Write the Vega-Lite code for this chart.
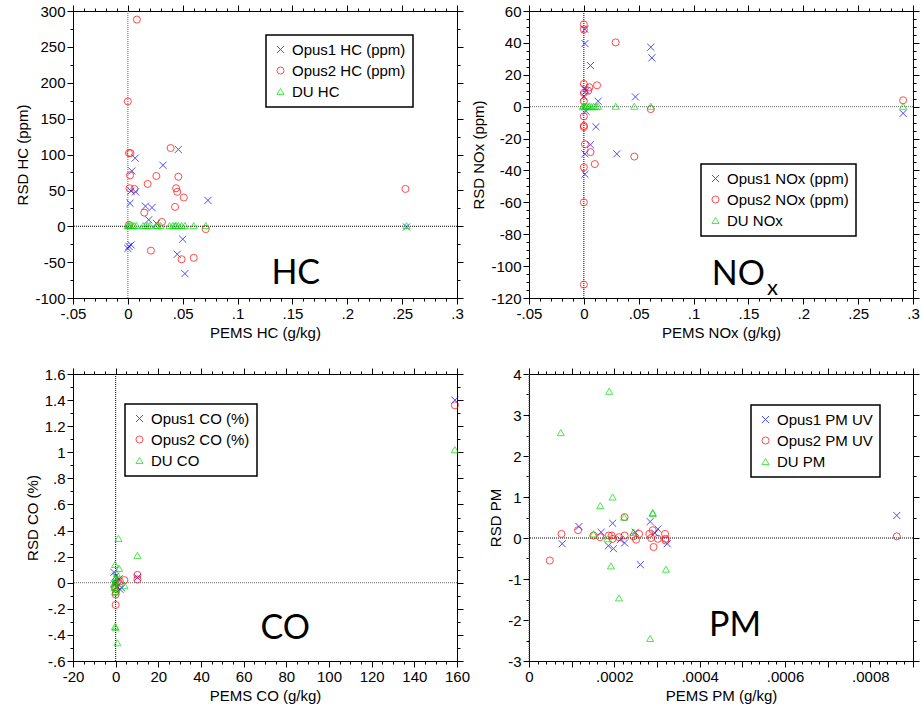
{
"$schema": "https://vega.github.io/schema/vega-lite/v6.json",
"background": "white",
"padding": {"left": 15, "top": 3, "right": 0, "bottom": 5},
"datasets": {
"hc": [
{"x":0.046,"y":107,"s":"Opus1 HC (ppm)"},{"x":0.0067,"y":95,"s":"Opus1 HC (ppm)"},{"x":0.032,"y":85,"s":"Opus1 HC (ppm)"},{"x":0.0036,"y":77,"s":"Opus1 HC (ppm)"},{"x":0.003,"y":49,"s":"Opus1 HC (ppm)"},{"x":0.007,"y":48,"s":"Opus1 HC (ppm)"},{"x":0.002,"y":32,"s":"Opus1 HC (ppm)"},{"x":0.016,"y":28,"s":"Opus1 HC (ppm)"},{"x":0.022,"y":26,"s":"Opus1 HC (ppm)"},{"x":0.073,"y":36,"s":"Opus1 HC (ppm)"},{"x":0.019,"y":9,"s":"Opus1 HC (ppm)"},{"x":0.026,"y":4,"s":"Opus1 HC (ppm)"},{"x":0.05,"y":-18,"s":"Opus1 HC (ppm)"},{"x":0.001,"y":-28,"s":"Opus1 HC (ppm)"},{"x":0.003,"y":-26,"s":"Opus1 HC (ppm)"},{"x":0.0,"y":-31,"s":"Opus1 HC (ppm)"},{"x":0.045,"y":-39,"s":"Opus1 HC (ppm)"},{"x":0.052,"y":-66,"s":"Opus1 HC (ppm)"},{"x":0.254,"y":-1,"s":"Opus1 HC (ppm)"},
{"x":0.0082,"y":288,"s":"Opus2 HC (ppm)"},{"x":0.0,"y":174,"s":"Opus2 HC (ppm)"},{"x":0.001,"y":102,"s":"Opus2 HC (ppm)"},{"x":0.0024,"y":102,"s":"Opus2 HC (ppm)"},{"x":0.039,"y":109,"s":"Opus2 HC (ppm)"},{"x":0.002,"y":71,"s":"Opus2 HC (ppm)"},{"x":0.026,"y":70,"s":"Opus2 HC (ppm)"},{"x":0.046,"y":69,"s":"Opus2 HC (ppm)"},{"x":0.018,"y":59,"s":"Opus2 HC (ppm)"},{"x":0.0015,"y":53,"s":"Opus2 HC (ppm)"},{"x":0.006,"y":52,"s":"Opus2 HC (ppm)"},{"x":0.044,"y":53,"s":"Opus2 HC (ppm)"},{"x":0.045,"y":48,"s":"Opus2 HC (ppm)"},{"x":0.051,"y":40,"s":"Opus2 HC (ppm)"},{"x":0.043,"y":27,"s":"Opus2 HC (ppm)"},{"x":0.015,"y":19,"s":"Opus2 HC (ppm)"},{"x":0.031,"y":6,"s":"Opus2 HC (ppm)"},{"x":0.071,"y":-4,"s":"Opus2 HC (ppm)"},{"x":0.021,"y":-34,"s":"Opus2 HC (ppm)"},{"x":0.049,"y":-46,"s":"Opus2 HC (ppm)"},{"x":0.06,"y":-44,"s":"Opus2 HC (ppm)"},{"x":0.253,"y":52,"s":"Opus2 HC (ppm)"},{"x":0.001,"y":2,"s":"Opus2 HC (ppm)"},
{"x":0.0,"y":1,"s":"DU HC"},{"x":0.0006,"y":1,"s":"DU HC"},{"x":0.0018,"y":1,"s":"DU HC"},{"x":0.0043,"y":1,"s":"DU HC"},{"x":0.0058,"y":1,"s":"DU HC"},{"x":0.0079,"y":1,"s":"DU HC"},{"x":0.014,"y":1,"s":"DU HC"},{"x":0.016,"y":1,"s":"DU HC"},{"x":0.018,"y":1,"s":"DU HC"},{"x":0.02,"y":1,"s":"DU HC"},{"x":0.026,"y":1,"s":"DU HC"},{"x":0.027,"y":1,"s":"DU HC"},{"x":0.03,"y":1,"s":"DU HC"},{"x":0.038,"y":1,"s":"DU HC"},{"x":0.041,"y":1,"s":"DU HC"},{"x":0.043,"y":1,"s":"DU HC"},{"x":0.044,"y":1,"s":"DU HC"},{"x":0.046,"y":1,"s":"DU HC"},{"x":0.049,"y":1,"s":"DU HC"},{"x":0.052,"y":1,"s":"DU HC"},{"x":0.06,"y":1,"s":"DU HC"},{"x":0.071,"y":1,"s":"DU HC"},{"x":0.254,"y":1,"s":"DU HC"}
],
"nox": [
{"x":0.001,"y":48.5,"s":"Opus1 NOx (ppm)"},{"x":0.001,"y":39.6,"s":"Opus1 NOx (ppm)"},{"x":0.061,"y":37.3,"s":"Opus1 NOx (ppm)"},{"x":0.062,"y":30.6,"s":"Opus1 NOx (ppm)"},{"x":0.006,"y":25.8,"s":"Opus1 NOx (ppm)"},{"x":0.001,"y":11.3,"s":"Opus1 NOx (ppm)"},{"x":0.002,"y":10,"s":"Opus1 NOx (ppm)"},{"x":0.0,"y":6.5,"s":"Opus1 NOx (ppm)"},{"x":0.013,"y":3.4,"s":"Opus1 NOx (ppm)"},{"x":0.047,"y":6.1,"s":"Opus1 NOx (ppm)"},{"x":0.002,"y":-2.9,"s":"Opus1 NOx (ppm)"},{"x":0.011,"y":-12.6,"s":"Opus1 NOx (ppm)"},{"x":0.006,"y":-23.9,"s":"Opus1 NOx (ppm)"},{"x":0.001,"y":-29.6,"s":"Opus1 NOx (ppm)"},{"x":0.03,"y":-29.6,"s":"Opus1 NOx (ppm)"},{"x":0.001,"y":-42.4,"s":"Opus1 NOx (ppm)"},{"x":0.291,"y":-4.2,"s":"Opus1 NOx (ppm)"},
{"x":0.0,"y":51.6,"s":"Opus2 NOx (ppm)"},{"x":0.0,"y":48.5,"s":"Opus2 NOx (ppm)"},{"x":0.029,"y":40.3,"s":"Opus2 NOx (ppm)"},{"x":0.0,"y":14.3,"s":"Opus2 NOx (ppm)"},{"x":0.005,"y":12.2,"s":"Opus2 NOx (ppm)"},{"x":0.012,"y":13.4,"s":"Opus2 NOx (ppm)"},{"x":0.004,"y":10,"s":"Opus2 NOx (ppm)"},{"x":0.0,"y":8.6,"s":"Opus2 NOx (ppm)"},{"x":0.0,"y":3.4,"s":"Opus2 NOx (ppm)"},{"x":0.061,"y":-1.5,"s":"Opus2 NOx (ppm)"},{"x":0.0,"y":-6.1,"s":"Opus2 NOx (ppm)"},{"x":0.0,"y":-12,"s":"Opus2 NOx (ppm)"},{"x":0.0,"y":-12.8,"s":"Opus2 NOx (ppm)"},{"x":0.001,"y":-23.5,"s":"Opus2 NOx (ppm)"},{"x":0.006,"y":-28.5,"s":"Opus2 NOx (ppm)"},{"x":0.046,"y":-31.3,"s":"Opus2 NOx (ppm)"},{"x":0.01,"y":-36,"s":"Opus2 NOx (ppm)"},{"x":0.0,"y":-38,"s":"Opus2 NOx (ppm)"},{"x":0.0,"y":-60,"s":"Opus2 NOx (ppm)"},{"x":0.0,"y":-111.6,"s":"Opus2 NOx (ppm)"},{"x":0.291,"y":4,"s":"Opus2 NOx (ppm)"},
{"x":-0.001,"y":0,"s":"DU NOx"},{"x":0.0,"y":0.5,"s":"DU NOx"},{"x":0.001,"y":0,"s":"DU NOx"},{"x":0.002,"y":0.5,"s":"DU NOx"},{"x":0.004,"y":0,"s":"DU NOx"},{"x":0.005,"y":0.5,"s":"DU NOx"},{"x":0.007,"y":0,"s":"DU NOx"},{"x":0.009,"y":0.3,"s":"DU NOx"},{"x":0.011,"y":0,"s":"DU NOx"},{"x":0.013,"y":0.3,"s":"DU NOx"},{"x":0.029,"y":0.3,"s":"DU NOx"},{"x":0.046,"y":0.3,"s":"DU NOx"},{"x":0.061,"y":0.3,"s":"DU NOx"},{"x":0.291,"y":0.3,"s":"DU NOx"}
],
"co": [
{"x":-0.8,"y":0.08,"s":"Opus1 CO (%)"},{"x":0.0,"y":0.05,"s":"Opus1 CO (%)"},{"x":1.7,"y":0.03,"s":"Opus1 CO (%)"},{"x":-0.5,"y":-0.01,"s":"Opus1 CO (%)"},{"x":0.5,"y":-0.03,"s":"Opus1 CO (%)"},{"x":2,"y":-0.05,"s":"Opus1 CO (%)"},{"x":10.2,"y":0.04,"s":"Opus1 CO (%)"},{"x":2.8,"y":-0.04,"s":"Opus1 CO (%)"},{"x":0.3,"y":0.0,"s":"Opus1 CO (%)"},{"x":159,"y":1.4,"s":"Opus1 CO (%)"},
{"x":10.2,"y":0.06,"s":"Opus2 CO (%)"},{"x":10.2,"y":0.025,"s":"Opus2 CO (%)"},{"x":4.1,"y":0.02,"s":"Opus2 CO (%)"},{"x":2,"y":0.01,"s":"Opus2 CO (%)"},{"x":0.0,"y":-0.07,"s":"Opus2 CO (%)"},{"x":0.0,"y":-0.09,"s":"Opus2 CO (%)"},{"x":0.0,"y":-0.17,"s":"Opus2 CO (%)"},{"x":-0.3,"y":-0.035,"s":"Opus2 CO (%)"},{"x":0.5,"y":0.0,"s":"Opus2 CO (%)"},{"x":159,"y":1.36,"s":"Opus2 CO (%)"},
{"x":1.3,"y":0.34,"s":"DU CO"},{"x":10.2,"y":0.21,"s":"DU CO"},{"x":-0.3,"y":0.14,"s":"DU CO"},{"x":1.6,"y":0.11,"s":"DU CO"},{"x":0.5,"y":0.07,"s":"DU CO"},{"x":-0.3,"y":0.03,"s":"DU CO"},{"x":0.2,"y":0.015,"s":"DU CO"},{"x":-0.8,"y":-0.01,"s":"DU CO"},{"x":-0.5,"y":-0.035,"s":"DU CO"},{"x":4.1,"y":-0.02,"s":"DU CO"},{"x":-0.3,"y":-0.335,"s":"DU CO"},{"x":0.0,"y":-0.345,"s":"DU CO"},{"x":0.8,"y":-0.46,"s":"DU CO"},{"x":0.0,"y":0.0,"s":"DU CO"},{"x":0.3,"y":-0.05,"s":"DU CO"},{"x":-0.2,"y":-0.07,"s":"DU CO"},{"x":159,"y":1.02,"s":"DU CO"}
],
"pm": [
{"x":0.0000778,"y":-0.14,"s":"Opus1 PM UV"},{"x":0.000117,"y":0.28,"s":"Opus1 PM UV"},{"x":0.000169,"y":0.14,"s":"Opus1 PM UV"},{"x":0.000196,"y":0.36,"s":"Opus1 PM UV"},{"x":0.000186,"y":-0.19,"s":"Opus1 PM UV"},{"x":0.000198,"y":-0.26,"s":"Opus1 PM UV"},{"x":0.000224,"y":-0.12,"s":"Opus1 PM UV"},{"x":0.000214,"y":-0.04,"s":"Opus1 PM UV"},{"x":0.000249,"y":0.14,"s":"Opus1 PM UV"},{"x":0.000261,"y":-0.65,"s":"Opus1 PM UV"},{"x":0.000284,"y":0.4,"s":"Opus1 PM UV"},{"x":0.000302,"y":0.22,"s":"Opus1 PM UV"},{"x":0.000295,"y":0.12,"s":"Opus1 PM UV"},{"x":0.000324,"y":-0.14,"s":"Opus1 PM UV"},{"x":0.000862,"y":0.55,"s":"Opus1 PM UV"},
{"x":0.0000488,"y":-0.55,"s":"Opus2 PM UV"},{"x":0.0000762,"y":0.1,"s":"Opus2 PM UV"},{"x":0.000115,"y":0.19,"s":"Opus2 PM UV"},{"x":0.000151,"y":0.06,"s":"Opus2 PM UV"},{"x":0.000167,"y":0.02,"s":"Opus2 PM UV"},{"x":0.000187,"y":0.06,"s":"Opus2 PM UV"},{"x":0.000194,"y":0.06,"s":"Opus2 PM UV"},{"x":0.000196,"y":-0.02,"s":"Opus2 PM UV"},{"x":0.000211,"y":0.02,"s":"Opus2 PM UV"},{"x":0.000224,"y":0.06,"s":"Opus2 PM UV"},{"x":0.000224,"y":0.51,"s":"Opus2 PM UV"},{"x":0.000245,"y":0.04,"s":"Opus2 PM UV"},{"x":0.000251,"y":-0.04,"s":"Opus2 PM UV"},{"x":0.000258,"y":0.1,"s":"Opus2 PM UV"},{"x":0.000282,"y":0.1,"s":"Opus2 PM UV"},{"x":0.000286,"y":0.0,"s":"Opus2 PM UV"},{"x":0.00029,"y":0.19,"s":"Opus2 PM UV"},{"x":0.000292,"y":-0.22,"s":"Opus2 PM UV"},{"x":0.000302,"y":-0.02,"s":"Opus2 PM UV"},{"x":0.000319,"y":0.1,"s":"Opus2 PM UV"},{"x":0.00032,"y":-0.02,"s":"Opus2 PM UV"},{"x":0.00032,"y":-0.06,"s":"Opus2 PM UV"},{"x":0.000862,"y":0.04,"s":"Opus2 PM UV"},
{"x":0.000188,"y":3.58,"s":"DU PM"},{"x":0.0000746,"y":2.57,"s":"DU PM"},{"x":0.000196,"y":1.0,"s":"DU PM"},{"x":0.000167,"y":0.79,"s":"DU PM"},{"x":0.000223,"y":0.51,"s":"DU PM"},{"x":0.00029,"y":0.6,"s":"DU PM"},{"x":0.00029,"y":0.62,"s":"DU PM"},{"x":0.000151,"y":0.1,"s":"DU PM"},{"x":0.000184,"y":-0.02,"s":"DU PM"},{"x":0.000245,"y":0.14,"s":"DU PM"},{"x":0.000192,"y":-0.68,"s":"DU PM"},{"x":0.000321,"y":-0.76,"s":"DU PM"},{"x":0.000211,"y":-1.46,"s":"DU PM"},{"x":0.000284,"y":-2.45,"s":"DU PM"}
]
},
"columns": 2,
"spacing": {"row": 76, "column": 72},
"bounds": "flush",
"concat": [
{
"width": 384, "height": 287,
"layer": [
{"data": {"values": [{}]}, "mark": {"type": "rule", "color": "#666666", "strokeDash": [1, 1]},
 "encoding": {"x": {"datum": 0, "type": "quantitative", "scale": {"domain": [-0.05, 0.3], "nice": false, "zero": false},
  "axis": {"orient": "top", "labels": false, "title": null, "values": [-0.05,-0.04,-0.03,-0.02,-0.01,0,0.01,0.02,0.03,0.04,0.05,0.06,0.07,0.08,0.09,0.1,0.11,0.12,0.13,0.14,0.15,0.16,0.17,0.18,0.19,0.2,0.21,0.22,0.23,0.24,0.25,0.26,0.27,0.28,0.29,0.3],
   "tickSize": {"condition": {"test": "abs(datum.value*20-round(datum.value*20))<0.000001", "value": 6}, "value": 3}}}}},
{"data": {"values": [{}]}, "mark": {"type": "rule", "color": "black", "strokeDash": [1, 1]},
 "encoding": {"y": {"datum": 0, "type": "quantitative", "scale": {"domain": [-100, 300], "nice": false, "zero": false},
  "axis": {"orient": "right", "labels": false, "title": null, "values": [-100,-75,-50,-25,0,25,50,75,100,125,150,175,200,225,250,275,300],
   "tickSize": {"condition": {"test": "datum.value % 50 == 0", "value": 6}, "value": 3}}}}},
{"data": {"name": "hc"}, "mark": {"type": "point", "filled": false, "strokeWidth": 1, "size": 50},
 "encoding": {
  "x": {"field": "x", "type": "quantitative", "axis": {"orient": "bottom", "title": "PEMS HC (g/kg)", "values": [-0.05,-0.04,-0.03,-0.02,-0.01,0,0.01,0.02,0.03,0.04,0.05,0.06,0.07,0.08,0.09,0.1,0.11,0.12,0.13,0.14,0.15,0.16,0.17,0.18,0.19,0.2,0.21,0.22,0.23,0.24,0.25,0.26,0.27,0.28,0.29,0.3],
   "labelExpr": "abs(datum.value*20-round(datum.value*20))<0.000001 ? replace(toString(round(datum.value*100)/100), regexp('^(-?)0[.]'), '$1.') : ''",
   "tickSize": {"condition": {"test": "abs(datum.value*20-round(datum.value*20))<0.000001", "value": 6}, "value": 3}}},
  "y": {"field": "y", "type": "quantitative", "axis": {"orient": "left", "title": "RSD HC (ppm)", "values": [-100,-75,-50,-25,0,25,50,75,100,125,150,175,200,225,250,275,300],
   "labelExpr": "datum.value % 50 == 0 ? toString(datum.value) : ''",
   "tickSize": {"condition": {"test": "datum.value % 50 == 0", "value": 6}, "value": 3}}},
  "color": {"field": "s", "type": "nominal", "scale": {"domain": ["Opus1 HC (ppm)", "Opus2 HC (ppm)", "DU HC"], "range": ["#0000ff", "#ff0000", "#00dd00"]}, "legend": {"title": null, "orient": "none", "legendX": 193, "legendY": 24}},
  "shape": {"field": "s", "type": "nominal", "scale": {"domain": ["Opus1 HC (ppm)", "Opus2 HC (ppm)", "DU HC"], "range": ["M-1,-1L1,1M-1,1L1,-1", "circle", "triangle-up"]}, "legend": {"title": null, "orient": "none", "legendX": 193, "legendY": 24}}
 }},
{"data": {"values": [{}]}, "mark": {"type": "text", "font": "Lato", "fontSize": 34, "baseline": "alphabetic", "align": "center", "color": "black"},
 "encoding": {"x": {"datum": 0.153, "type": "quantitative", "axis": null}, "y": {"datum": -80, "type": "quantitative", "axis": null}, "text": {"value": "HC"}}}
],
"resolve": {"axis": {"x": "independent", "y": "independent"}}
},
{
"width": 384, "height": 287,
"layer": [
{"data": {"values": [{}]}, "mark": {"type": "rule", "color": "black", "strokeDash": [1, 1]},
 "encoding": {"x": {"datum": 0, "type": "quantitative", "scale": {"domain": [-0.05, 0.3], "nice": false, "zero": false},
  "axis": {"orient": "top", "labels": false, "title": null, "values": [-0.05,-0.04,-0.03,-0.02,-0.01,0,0.01,0.02,0.03,0.04,0.05,0.06,0.07,0.08,0.09,0.1,0.11,0.12,0.13,0.14,0.15,0.16,0.17,0.18,0.19,0.2,0.21,0.22,0.23,0.24,0.25,0.26,0.27,0.28,0.29,0.3],
   "tickSize": {"condition": {"test": "abs(datum.value*20-round(datum.value*20))<0.000001", "value": 6}, "value": 3}}}}},
{"data": {"values": [{}]}, "mark": {"type": "rule", "color": "#666666", "strokeDash": [1, 1]},
 "encoding": {"y": {"datum": 0, "type": "quantitative", "scale": {"domain": [-120, 60], "nice": false, "zero": false},
  "axis": {"orient": "right", "labels": false, "title": null, "values": [-120,-115,-110,-105,-100,-95,-90,-85,-80,-75,-70,-65,-60,-55,-50,-45,-40,-35,-30,-25,-20,-15,-10,-5,0,5,10,15,20,25,30,35,40,45,50,55,60],
   "tickSize": {"condition": {"test": "datum.value % 20 == 0", "value": 6}, "value": 3}}}}},
{"data": {"name": "nox"}, "mark": {"type": "point", "filled": false, "strokeWidth": 1, "size": 50},
 "encoding": {
  "x": {"field": "x", "type": "quantitative", "axis": {"orient": "bottom", "title": "PEMS NOx (g/kg)", "values": [-0.05,-0.04,-0.03,-0.02,-0.01,0,0.01,0.02,0.03,0.04,0.05,0.06,0.07,0.08,0.09,0.1,0.11,0.12,0.13,0.14,0.15,0.16,0.17,0.18,0.19,0.2,0.21,0.22,0.23,0.24,0.25,0.26,0.27,0.28,0.29,0.3],
   "labelExpr": "abs(datum.value*20-round(datum.value*20))<0.000001 ? replace(toString(round(datum.value*100)/100), regexp('^(-?)0[.]'), '$1.') : ''",
   "tickSize": {"condition": {"test": "abs(datum.value*20-round(datum.value*20))<0.000001", "value": 6}, "value": 3}}},
  "y": {"field": "y", "type": "quantitative", "axis": {"orient": "left", "title": "RSD NOx (ppm)", "values": [-120,-115,-110,-105,-100,-95,-90,-85,-80,-75,-70,-65,-60,-55,-50,-45,-40,-35,-30,-25,-20,-15,-10,-5,0,5,10,15,20,25,30,35,40,45,50,55,60],
   "labelExpr": "datum.value % 20 == 0 ? toString(datum.value) : ''",
   "tickSize": {"condition": {"test": "datum.value % 20 == 0", "value": 6}, "value": 3}}},
  "color": {"field": "s", "type": "nominal", "scale": {"domain": ["Opus1 NOx (ppm)", "Opus2 NOx (ppm)", "DU NOx"], "range": ["#0000ff", "#ff0000", "#00dd00"]}, "legend": {"title": null, "orient": "none", "legendX": 172, "legendY": 153}},
  "shape": {"field": "s", "type": "nominal", "scale": {"domain": ["Opus1 NOx (ppm)", "Opus2 NOx (ppm)", "DU NOx"], "range": ["M-1,-1L1,1M-1,1L1,-1", "circle", "triangle-up"]}, "legend": {"title": null, "orient": "none", "legendX": 172, "legendY": 153}}
 }},
{"data": {"values": [{}]}, "mark": {"type": "text", "font": "Lato", "fontSize": 34, "baseline": "alphabetic", "align": "right", "color": "black"},
 "encoding": {"x": {"datum": 0.165, "type": "quantitative", "axis": null}, "y": {"datum": -112, "type": "quantitative", "axis": null}, "text": {"value": "NO"}}},
{"data": {"values": [{}]}, "mark": {"type": "text", "font": "Lato", "fontSize": 22, "baseline": "alphabetic", "align": "left", "color": "black"},
 "encoding": {"x": {"datum": 0.167, "type": "quantitative", "axis": null}, "y": {"datum": -118, "type": "quantitative", "axis": null}, "text": {"value": "x"}}}
],
"resolve": {"axis": {"x": "independent", "y": "independent"}}
},
{
"width": 384, "height": 287,
"layer": [
{"data": {"values": [{}]}, "mark": {"type": "rule", "color": "black", "strokeDash": [1, 1]},
 "encoding": {"x": {"datum": 0, "type": "quantitative", "scale": {"domain": [-20, 160], "nice": false, "zero": false},
  "axis": {"orient": "top", "labels": false, "title": null, "values": [-20,-15,-10,-5,0,5,10,15,20,25,30,35,40,45,50,55,60,65,70,75,80,85,90,95,100,105,110,115,120,125,130,135,140,145,150,155,160],
   "tickSize": {"condition": {"test": "datum.value % 20 == 0", "value": 6}, "value": 3}}}}},
{"data": {"values": [{}]}, "mark": {"type": "rule", "color": "#666666", "strokeDash": [1, 1]},
 "encoding": {"y": {"datum": 0, "type": "quantitative", "scale": {"domain": [-0.6, 1.6], "nice": false, "zero": false},
  "axis": {"orient": "right", "labels": false, "title": null, "values": [-0.6,-0.5,-0.4,-0.3,-0.2,-0.1,0,0.1,0.2,0.3,0.4,0.5,0.6,0.7,0.8,0.9,1,1.1,1.2,1.3,1.4,1.5,1.6],
   "tickSize": {"condition": {"test": "abs(datum.value*5-round(datum.value*5))<0.000001", "value": 6}, "value": 3}}}}},
{"data": {"name": "co"}, "mark": {"type": "point", "filled": false, "strokeWidth": 1, "size": 50},
 "encoding": {
  "x": {"field": "x", "type": "quantitative", "axis": {"orient": "bottom", "title": "PEMS CO (g/kg)", "values": [-20,-15,-10,-5,0,5,10,15,20,25,30,35,40,45,50,55,60,65,70,75,80,85,90,95,100,105,110,115,120,125,130,135,140,145,150,155,160],
   "labelExpr": "datum.value % 20 == 0 ? toString(datum.value) : ''",
   "tickSize": {"condition": {"test": "datum.value % 20 == 0", "value": 6}, "value": 3}}},
  "y": {"field": "y", "type": "quantitative", "axis": {"orient": "left", "title": "RSD CO (%)", "values": [-0.6,-0.5,-0.4,-0.3,-0.2,-0.1,0,0.1,0.2,0.3,0.4,0.5,0.6,0.7,0.8,0.9,1,1.1,1.2,1.3,1.4,1.5,1.6],
   "labelExpr": "abs(datum.value*5-round(datum.value*5))<0.000001 ? replace(toString(round(datum.value*10)/10), regexp('^(-?)0[.]'), '$1.') : ''",
   "tickSize": {"condition": {"test": "abs(datum.value*5-round(datum.value*5))<0.000001", "value": 6}, "value": 3}}},
  "color": {"field": "s", "type": "nominal", "scale": {"domain": ["Opus1 CO (%)", "Opus2 CO (%)", "DU CO"], "range": ["#0000ff", "#ff0000", "#00dd00"]}, "legend": {"title": null, "orient": "none", "legendX": 52, "legendY": 30}},
  "shape": {"field": "s", "type": "nominal", "scale": {"domain": ["Opus1 CO (%)", "Opus2 CO (%)", "DU CO"], "range": ["M-1,-1L1,1M-1,1L1,-1", "circle", "triangle-up"]}, "legend": {"title": null, "orient": "none", "legendX": 52, "legendY": 30}}
 }},
{"data": {"values": [{}]}, "mark": {"type": "text", "font": "Lato", "fontSize": 34, "baseline": "alphabetic", "align": "center", "color": "black"},
 "encoding": {"x": {"datum": 79.5, "type": "quantitative", "axis": null}, "y": {"datum": -0.43, "type": "quantitative", "axis": null}, "text": {"value": "CO"}}}
],
"resolve": {"axis": {"x": "independent", "y": "independent"}}
},
{
"width": 384, "height": 287,
"layer": [
{"data": {"values": [{}]}, "mark": {"type": "rule", "color": "#666666", "strokeDash": [1, 1]},
 "encoding": {"x": {"datum": 0, "type": "quantitative", "scale": {"domain": [0, 0.0009], "nice": false, "zero": false},
  "axis": {"orient": "top", "labels": false, "title": null, "values": [0,0.00002,0.00004,0.00006,0.00008,0.0001,0.00012,0.00014,0.00016,0.00018,0.0002,0.00022,0.00024,0.00026,0.00028,0.0003,0.00032,0.00034,0.00036,0.00038,0.0004,0.00042,0.00044,0.00046,0.00048,0.0005,0.00052,0.00054,0.00056,0.00058,0.0006,0.00062,0.00064,0.00066,0.00068,0.0007,0.00072,0.00074,0.00076,0.00078,0.0008,0.00082,0.00084,0.00086,0.00088,0.0009],
   "tickSize": {"condition": {"test": "abs(datum.value*10000-round(datum.value*10000))<0.000001", "value": 6}, "value": 3}}}}},
{"data": {"values": [{}]}, "mark": {"type": "rule", "color": "black", "strokeDash": [1, 1]},
 "encoding": {"y": {"datum": 0, "type": "quantitative", "scale": {"domain": [-3, 4], "nice": false, "zero": false},
  "axis": {"orient": "right", "labels": false, "title": null, "values": [-3,-2.5,-2,-1.5,-1,-0.5,0,0.5,1,1.5,2,2.5,3,3.5,4],
   "tickSize": {"condition": {"test": "datum.value % 1 == 0", "value": 6}, "value": 3}}}}},
{"data": {"name": "pm"}, "mark": {"type": "point", "filled": false, "strokeWidth": 1, "size": 50},
 "encoding": {
  "x": {"field": "x", "type": "quantitative", "axis": {"orient": "bottom", "title": "PEMS PM (g/kg)", "values": [0,0.00002,0.00004,0.00006,0.00008,0.0001,0.00012,0.00014,0.00016,0.00018,0.0002,0.00022,0.00024,0.00026,0.00028,0.0003,0.00032,0.00034,0.00036,0.00038,0.0004,0.00042,0.00044,0.00046,0.00048,0.0005,0.00052,0.00054,0.00056,0.00058,0.0006,0.00062,0.00064,0.00066,0.00068,0.0007,0.00072,0.00074,0.00076,0.00078,0.0008,0.00082,0.00084,0.00086,0.00088,0.0009],
   "labelExpr": "abs(datum.value*5000-round(datum.value*5000))<0.000001 ? replace(toString(round(datum.value*10000)/10000), regexp('^(-?)0[.]'), '$1.') : ''",
   "tickSize": {"condition": {"test": "abs(datum.value*10000-round(datum.value*10000))<0.000001", "value": 6}, "value": 3}}},
  "y": {"field": "y", "type": "quantitative", "axis": {"orient": "left", "title": "RSD PM", "values": [-3,-2.5,-2,-1.5,-1,-0.5,0,0.5,1,1.5,2,2.5,3,3.5,4],
   "labelExpr": "datum.value % 1 == 0 ? toString(datum.value) : ''",
   "tickSize": {"condition": {"test": "datum.value % 1 == 0", "value": 6}, "value": 3}}},
  "color": {"field": "s", "type": "nominal", "scale": {"domain": ["Opus1 PM UV", "Opus2 PM UV", "DU PM"], "range": ["#0000ff", "#ff0000", "#00dd00"]}, "legend": {"title": null, "orient": "none", "legendX": 222, "legendY": 31}},
  "shape": {"field": "s", "type": "nominal", "scale": {"domain": ["Opus1 PM UV", "Opus2 PM UV", "DU PM"], "range": ["M-1,-1L1,1M-1,1L1,-1", "circle", "triangle-up"]}, "legend": {"title": null, "orient": "none", "legendX": 222, "legendY": 31}}
 }},
{"data": {"values": [{}]}, "mark": {"type": "text", "font": "Lato", "fontSize": 34, "baseline": "alphabetic", "align": "center", "color": "black"},
 "encoding": {"x": {"datum": 0.000483, "type": "quantitative", "axis": null}, "y": {"datum": -2.4, "type": "quantitative", "axis": null}, "text": {"value": "PM"}}}
],
"resolve": {"axis": {"x": "independent", "y": "independent"}}
}
],
"resolve": {"scale": {"color": "independent", "shape": "independent"}, "legend": {"color": "independent", "shape": "independent"}},
"config": {
 "view": {"stroke": "black", "strokeWidth": 1},
 "axis": {"labelFont": "Liberation Sans", "labelFontSize": 15, "titleFont": "Liberation Sans", "titleFontSize": 15, "titleFontWeight": "normal", "labelColor": "black", "titleColor": "black", "domainColor": "black", "tickColor": "black", "grid": false, "labelFlush": false, "labelOverlap": false, "labelPadding": 2, "titlePadding": 4},
 "legend": {"strokeColor": "black", "strokeWidth": 1.5, "fillColor": "white", "padding": 7, "labelFont": "Liberation Sans", "labelFontSize": 15, "labelColor": "black", "rowPadding": 5, "symbolStrokeWidth": 1, "symbolSize": 50}
}
}
